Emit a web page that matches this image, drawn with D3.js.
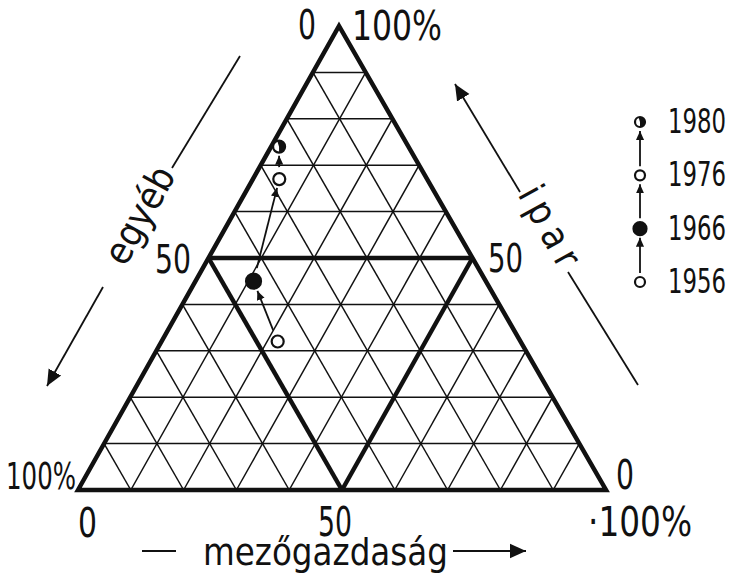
<!DOCTYPE html>
<html lang="hu">
<head>
<meta charset="UTF-8">
<title>Ternary diagram</title>
<style>
  body { margin: 0; background: #fff; }
  .num { font-family: "DejaVu Sans Condensed", "DejaVu Sans", sans-serif; fill: #111; }
  .word { font-family: "DejaVu Sans Condensed", "DejaVu Sans", sans-serif; fill: #111; }
</style>
</head>
<body>
<div id="chart"></div>
<script src="https://d3js.org/d3.v7.min.js"></script>
<script>
// data (percent)
var years = ["1956", "1966", "1976", "1980"];
var mezogazdasag = [22, 11, 5, 1.5];
var ipar = [32, 45, 67, 74];
var egyeb = [46, 44, 28, 24.5];
var markerType = ["open", "filled", "open", "half"];
var gridSteps = [10, 20, 30, 40, 50, 60, 70, 80, 90];
var tickLabels = ["0", "50", "100%"];

var W = 743, H = 574;
var ink = "#111";

var svg = d3.select("#chart").append("svg")
    .attr("width", W)
    .attr("height", H);

var defs = svg.append("defs");
function arrowMarker(id, size) {
    defs.append("marker")
        .attr("id", id)
        .attr("viewBox", "0 -5 10 10")
        .attr("refX", 10)
        .attr("refY", 0)
        .attr("markerUnits", "userSpaceOnUse")
        .attr("markerWidth", size)
        .attr("markerHeight", size)
        .attr("orient", "auto")
        .append("path")
        .attr("d", "M0,-4.5L10,0L0,4.5Z")
        .attr("fill", ink);
}
arrowMarker("head", 9);
arrowMarker("bighead", 16);

// ternary -> screen: a = mezőgazdaság (bottom right corner), i = ipar (apex)
var left = 78;
var aX = d3.scaleLinear().domain([0, 100]).range([0, 528]);
var iX = d3.scaleLinear().domain([0, 100]).range([0, 261]);
var iY = d3.scaleLinear().domain([0, 100]).range([490, 26]);
function pos(a, i) { return [left + aX(a) + iX(i), iY(i)]; }

var line = d3.line();

// grid, the 50% lines drawn heavy
var grid = svg.append("g").attr("stroke", ink).attr("fill", "none");
gridSteps.forEach(function (k) {
    var w = k === 50 ? 4.5 : 1.5;
    grid.append("path").attr("d", line([pos(0, k), pos(100 - k, k)])).attr("stroke-width", w);
    grid.append("path").attr("d", line([pos(k, 0), pos(k, 100 - k)])).attr("stroke-width", w);
    grid.append("path").attr("d", line([pos(100 - k, 0), pos(0, 100 - k)])).attr("stroke-width", w);
});

// outer triangle
svg.append("path")
    .attr("d", line([pos(0, 0), pos(0, 100), pos(100, 0)]) + "Z")
    .attr("fill", "none")
    .attr("stroke", ink)
    .attr("stroke-width", 4.5)
    .attr("stroke-linejoin", "miter");

// trajectory
var pts = years.map(function (y, j) { return pos(mezogazdasag[j], ipar[j]); });
var radius = [6, 7.5, 6, 6];

function shortLine(p, q, r0, r1) {
    var dx = q[0] - p[0], dy = q[1] - p[1];
    var len = Math.sqrt(dx * dx + dy * dy);
    var ux = dx / len, uy = dy / len;
    return [[p[0] + ux * r0, p[1] + uy * r0], [q[0] - ux * r1, q[1] - uy * r1]];
}

for (var j = 0; j < pts.length - 1; j++) {
    svg.append("path")
        .attr("d", line(shortLine(pts[j], pts[j + 1], radius[j] + 6, radius[j + 1] + 3)))
        .attr("stroke", ink)
        .attr("stroke-width", 1.8)
        .attr("fill", "none")
        .attr("marker-end", "url(#head)");
}

function drawMarker(g, type, cx, cy, r) {
    g.append("circle")
        .attr("cx", cx).attr("cy", cy).attr("r", r)
        .attr("fill", type === "filled" ? ink : "#fff")
        .attr("stroke", ink)
        .attr("stroke-width", 2.2);
    if (type === "half") {
        g.append("path")
            .attr("d", d3.arc()({ innerRadius: 0, outerRadius: r, startAngle: -0.3, endAngle: Math.PI }))
            .attr("transform", "translate(" + cx + "," + cy + ")")
            .attr("fill", ink);
    }
}

pts.forEach(function (p, j) {
    drawMarker(svg, markerType[j], p[0], p[1], radius[j]);
});

// legend
var lx = 640;
var ly = d3.scalePoint().domain(years).range([282, 122]);
var legend = svg.append("g");
years.forEach(function (y, j) {
    var r = markerType[j] === "filled" ? 6.5 : 5;
    if (j < years.length - 1) {
        legend.append("path")
            .attr("d", line([[lx, ly(y) - r - 4], [lx, ly(years[j + 1]) + 9]]))
            .attr("stroke", ink)
            .attr("stroke-width", 1.8)
            .attr("marker-end", "url(#head)");
    }
    drawMarker(legend, markerType[j], lx, ly(y), r);
    legend.append("text")
        .attr("class", "num")
        .attr("x", lx + 28)
        .attr("y", ly(y) + 11)
        .attr("font-size", 33)
        .attr("textLength", 58)
        .attr("lengthAdjust", "spacingAndGlyphs")
        .text(y);
});

// tick labels (narrow, as in the drawing)
function label(txt, x, y, size, width) {
    return svg.append("text")
        .attr("class", "num")
        .attr("x", x).attr("y", y)
        .attr("font-size", size)
        .attr("textLength", width)
        .attr("lengthAdjust", "spacingAndGlyphs")
        .text(txt);
}
label(tickLabels[0], 298, 39, 40, 18);
label(tickLabels[2], 352, 40, 40, 90);
label(tickLabels[1], 155, 273, 39, 36);
label(tickLabels[1], 488, 272, 39, 35);
label(tickLabels[2], 6, 489, 37, 70);
label(tickLabels[0], 616, 489, 40, 18);
label(tickLabels[0], 78, 537, 40, 19);
label(tickLabels[1], 318, 536, 40, 34);
label("·" + tickLabels[2], 588, 536, 40, 104);

// axis titles
svg.append("text")
    .attr("class", "word")
    .attr("x", 203).attr("y", 565)
    .attr("font-size", 38)
    .attr("textLength", 245)
    .attr("lengthAdjust", "spacingAndGlyphs")
    .text("mezőgazdaság");
svg.append("path").attr("d", line([[142, 551], [176, 551]])).attr("stroke", ink).attr("stroke-width", 2);
svg.append("path").attr("d", line([[453, 551], [526, 551]])).attr("stroke", ink).attr("stroke-width", 2)
    .attr("marker-end", "url(#bighead)");

svg.append("text")
    .attr("class", "word")
    .attr("transform", "translate(141,216) rotate(-61)")
    .attr("font-size", 38)
    .attr("text-anchor", "middle")
    .attr("dy", "0.3em")
    .text("egyéb");
svg.append("path").attr("d", line([[240, 56], [172, 168]])).attr("stroke", ink).attr("stroke-width", 1.8);
svg.append("path").attr("d", line([[103, 287], [47, 386]])).attr("stroke", ink).attr("stroke-width", 1.8)
    .attr("marker-end", "url(#bighead)");

svg.append("text")
    .attr("class", "word")
    .attr("transform", "translate(550,230) rotate(61)")
    .attr("font-size", 38)
    .attr("text-anchor", "middle")
    .attr("letter-spacing", 7)
    .attr("dy", "0.3em")
    .text("ipar");
svg.append("path").attr("d", line([[520, 192], [455, 84]])).attr("stroke", ink).attr("stroke-width", 1.8)
    .attr("marker-end", "url(#bighead)");
svg.append("path").attr("d", line([[568, 272], [638, 385]])).attr("stroke", ink).attr("stroke-width", 1.8);
</script>
</body>
</html>
